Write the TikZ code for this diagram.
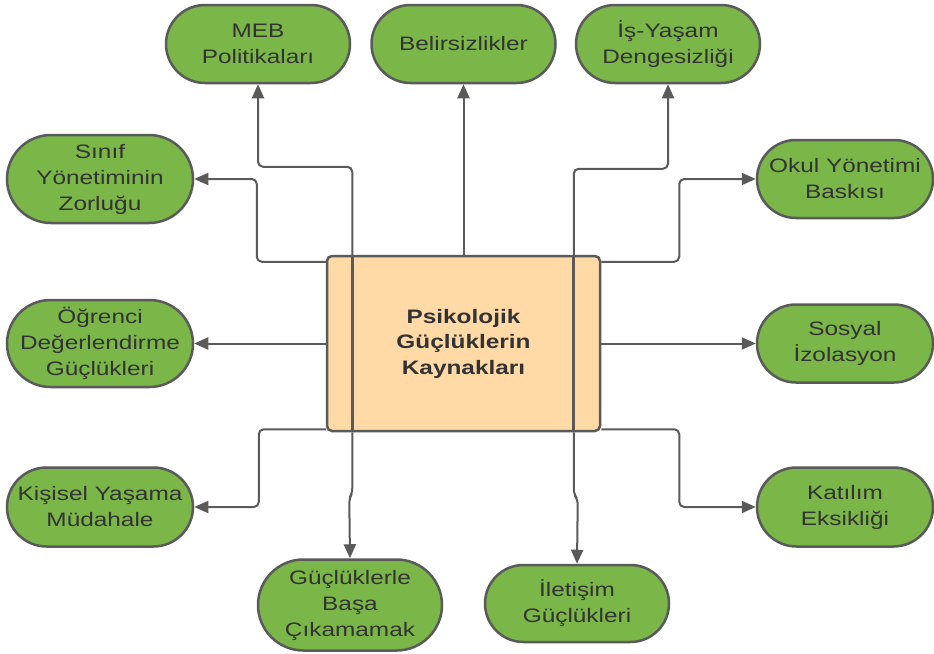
\documentclass[tikz,border=0pt]{standalone}
\usepackage{fontspec}
\setmainfont{Liberation Sans}[FakeStretch=1.25]
\usetikzlibrary{arrows.meta,calc}
\definecolor{leafgreen}{HTML}{7AB648}
\definecolor{edgegray}{HTML}{5A5A5A}
\definecolor{textgray}{HTML}{333333}
\definecolor{hubfill}{HTML}{FFD9A6}
\tikzset{
  leaf/.style={draw=edgegray, line width=2.5pt, fill=leafgreen, text=textgray,
    align=center, inner sep=0pt, font={\fontsize{19.5}{26}\selectfont}},
  hub/.style={draw=edgegray, line width=2.5pt, fill=hubfill, text=textgray,
    align=center, inner sep=0pt, rounded corners=5pt,
    font={\bfseries\fontsize{19.5}{25.5}\selectfont}},
  conn/.style={draw=edgegray, line width=2pt, rounded corners=5pt,
    -{Triangle[length=14pt,width=12pt]}},
  thru/.style={draw=edgegray, line width=2.8pt}
}
\begin{document}
\begin{tikzpicture}[x=1pt,y=-1pt]
\useasboundingbox[fill=white] (0,0) rectangle (934,653);
% hub
\node[hub, minimum width=273pt, minimum height=175pt] (c) at (463.5,343.5) {Psikolojik\\Güçlüklerin\\Kaynakları};
% leaves
\node[leaf, minimum width=184pt, minimum height=78pt, rounded corners=39pt] (meb) at (258,44) {MEB\\Politikaları};
\node[leaf, minimum width=184pt, minimum height=78pt, rounded corners=39pt] (bel) at (463.5,44) {Belirsizlikler};
\node[leaf, minimum width=184pt, minimum height=78pt, rounded corners=39pt] (isy) at (668,44) {İş-Yaşam\\Dengesizliği};
\node[leaf, minimum width=176pt, minimum height=78pt, rounded corners=39pt] (okul) at (845,179) {Okul Yönetimi\\Baskısı};
\node[leaf, minimum width=186pt, minimum height=88pt, rounded corners=44pt] (sinif) at (100,179) {Sınıf\\Yönetiminin\\Zorluğu};
\node[leaf, minimum width=186pt, minimum height=87pt, rounded corners=43.5pt] (ogr) at (100,343.5) {Öğrenci\\Değerlendirme\\Güçlükleri};
\node[leaf, minimum width=176pt, minimum height=78pt, rounded corners=39pt] (sos) at (845,343.5) {Sosyal\\İzolasyon};
\node[leaf, minimum width=186pt, minimum height=79pt, rounded corners=39.5pt] (kis) at (100,507) {Kişisel Yaşama\\Müdahale};
\node[leaf, minimum width=176pt, minimum height=79pt, rounded corners=39.5pt] (kat) at (845,507) {Katılım\\Eksikliği};
\node[leaf, minimum width=184pt, minimum height=91pt, rounded corners=45.5pt] (guc) at (350,605) {Güçlüklerle\\Başa\\Çıkamamak};
\node[leaf, minimum width=184pt, minimum height=77pt, rounded corners=38.5pt] (ilt) at (577,603.5) {İletişim\\Güçlükleri};
% lines crossing the hub
\draw[thru] ([xshift=26.5pt]c.south west) -- ([xshift=26.5pt]c.north west);
\draw[thru] ([xshift=-27.5pt]c.south east) -- ([xshift=-27.5pt]c.north east);
% connectors
\draw[conn] ([xshift=26.5pt]c.north west) -- ++(0,-88) -| (meb.south);
\draw[conn] ([xshift=26.5pt]c.south west) -- ++(0,61) -- ++(-3,5) -- (guc.north);
\draw[conn] ([xshift=-27.5pt]c.north east) -- ++(0,-86) -| (isy.south);
\draw[conn] ([xshift=-27.5pt]c.south east) -- ++(0,62) -- ++(4,5) -- (ilt.north);
\draw[conn] (c.north) -- (bel.south);
\draw[conn] ([yshift=-7pt]c.north west) -- ++(-69,0) |- (sinif.east);
\draw[conn] (c.west) -- (ogr.east);
\draw[conn] ([yshift=3pt]c.south west) -- ++(-67,0) |- (kis.east);
\draw[conn] ([yshift=-7pt]c.north east) -- ++(78,0) |- (okul.west);
\draw[conn] (c.east) -- (sos.west);
\draw[conn] ([yshift=3pt]c.south east) -- ++(78,0) |- (kat.west);
\end{tikzpicture}
\end{document}
